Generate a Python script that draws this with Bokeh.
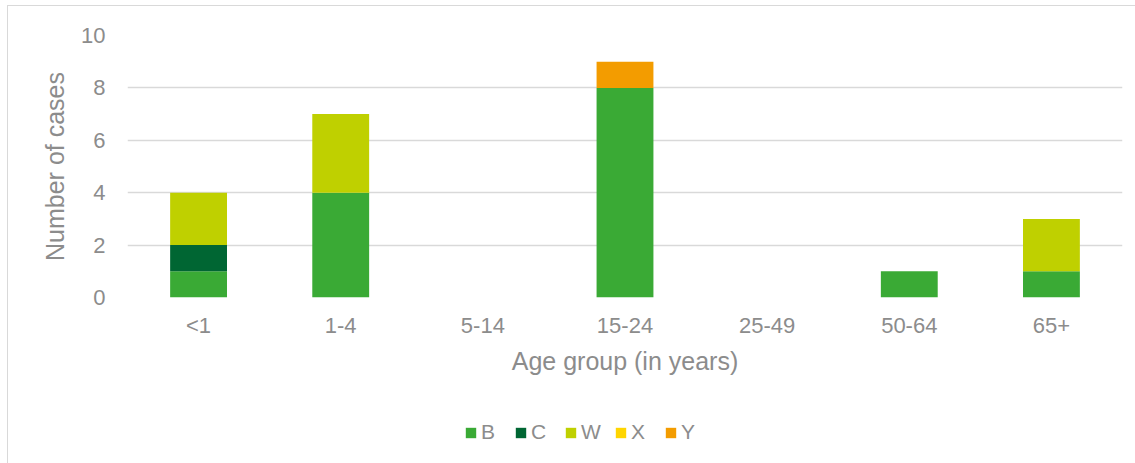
from bokeh.plotting import figure
from bokeh.layouts import column
from bokeh.models import FactorRange, Range1d, FixedTicker, Legend, LegendItem
from bokeh.embed import file_html
from bokeh.resources import INLINE

age_groups = ["<1", "1-4", "5-14", "15-24", "25-49", "50-64", "65+"]
B = [1, 4, 0, 8, 0, 1, 1]
C = [1, 0, 0, 0, 0, 0, 0]
W = [2, 3, 0, 0, 0, 0, 2]
X = [0, 0, 0, 0, 0, 0, 0]
Y = [0, 0, 0, 1, 0, 0, 0]
series = ["B", "C", "W", "X", "Y"]
colors = ["#3AAA35", "#006633", "#BFD000", "#FFD500", "#F39C00"]

data = dict(age=age_groups, B=B, C=C, W=W, X=X, Y=Y)

TXT = "#8c8c8c"
FONT = "Liberation Sans"

xr = FactorRange(*age_groups, range_padding=0)
p = figure(x_range=xr, y_range=Range1d(0, 10),
           width=1128, height=391, output_backend="svg", toolbar_location=None,
           min_border_left=119, min_border_right=14, min_border_top=29, min_border_bottom=100)

p.vbar_stack(series, x="age", width=0.4, color=colors, source=data, line_width=0)

p.outline_line_color = None
p.xgrid.grid_line_color = None
p.ygrid.grid_line_color = "#d9d9d9"
p.ygrid.grid_line_width = 1.5
p.yaxis.ticker = FixedTicker(ticks=[0, 2, 4, 6, 8, 10])

for ax in (p.xaxis[0], p.yaxis[0]):
    ax.axis_line_color = None
    ax.major_tick_line_color = None
    ax.minor_tick_line_color = None
    ax.major_label_text_color = TXT
    ax.major_label_text_font = FONT
    ax.major_label_text_font_size = "22px"
    ax.axis_label_text_color = TXT
    ax.axis_label_text_font = FONT
    ax.axis_label_text_font_size = "25px"
    ax.axis_label_text_font_style = "normal"

p.yaxis.axis_label = "Number of cases"
p.yaxis.major_label_standoff = 16
p.yaxis.axis_label_standoff = 9
p.xaxis.axis_label = "Age group (in years)"
p.xaxis.major_label_standoff = 9
p.xaxis.axis_label_standoff = 6

# legend strip below the chart
q = figure(x_range=xr, y_range=Range1d(1000, 1001), width=1128, height=66,
           output_backend="svg", toolbar_location=None,
           x_axis_location=None, y_axis_location=None, min_border=0)
q.outline_line_color = None
q.grid.visible = False
rs = q.vbar_stack(series, x="age", width=0.4, color=colors, source=data, line_width=0)
legend = Legend(items=[LegendItem(label=s, renderers=[r]) for s, r in zip(series, rs)],
                orientation="horizontal", location=(337, 19),
                glyph_width=13, glyph_height=13, label_standoff=4, spacing=13,
                label_text_font=FONT, label_text_font_size="21px", label_text_color=TXT,
                border_line_color=None, background_fill_alpha=0, margin=0, padding=0)
q.add_layout(legend, "center")

layout = column(p, q, spacing=0)
layout.margin = (5, 0, 0, 7)
layout.styles = {"border-left": "1px solid #d9d9d9", "border-top": "1px solid #d9d9d9"}

open("out.html", "w").write(file_html(layout, INLINE))
